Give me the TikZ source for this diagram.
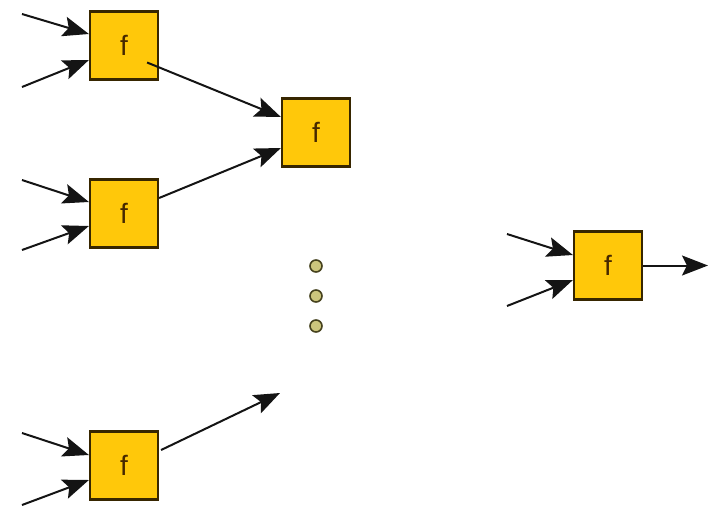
\documentclass[tikz,border=0pt]{standalone}
\usepackage{fontspec}
\setmainfont{Liberation Sans}
\usetikzlibrary{arrows.meta,calc}
\definecolor{boxfill}{RGB}{255,200,10}
\definecolor{boxline}{RGB}{55,38,0}
\definecolor{letter}{RGB}{70,40,0}
\definecolor{dotfill}{RGB}{205,198,125}
\definecolor{dotline}{RGB}{70,66,30}
\definecolor{wire}{RGB}{20,20,20}
\tikzset{
  fbox/.style={draw=boxline, fill=boxfill, line width=2.2pt, minimum size=68pt,
    inner sep=0pt, text=letter, font=\fontsize{28}{28}\selectfont},
  wirearrow/.style={draw=wire, line width=2pt, -{Stealth[length=26pt,width=20pt,inset=5pt]}},
  vdot/.style={circle, draw=dotline, fill=dotfill, line width=1.6pt, minimum size=12pt, inner sep=0pt}
}
\begin{document}
\begin{tikzpicture}[x=1pt,y=-1pt]
\useasboundingbox (0,0) rectangle (721,507);
% function blocks
\node[fbox] (b1) at (124,45.5) {f};
\node[fbox] (b2) at (316,132.5) {f};
\node[fbox] (b3) at (124,213.5) {f};
\node[fbox] (b4) at (124,465.5) {f};
\node[fbox] (b5) at (608,265.5) {f};
% ellipsis dots
\node[vdot] (d1) at (316,266) {};
\node[vdot] (d2) at (316,296) {};
\node[vdot] (d3) at (316,326) {};
% free ends of the wires
\coordinate (i1a) at (22,14);
\coordinate (i1b) at (22,87);
\coordinate (i3a) at (22,180);
\coordinate (i3b) at (22,250);
\coordinate (i4a) at (22,433);
\coordinate (i4b) at (22,505);
\coordinate (i5a) at (507,234);
\coordinate (i5b) at (507,306);
\coordinate (o4) at (280,393);
\coordinate (o5) at (708,266);
% inputs
\draw[wirearrow] (i1a) -- ($(b1.west)+(0,-11.5)$);
\draw[wirearrow] (i1b) -- ($(b1.west)+(0,14.5)$);
\draw[wirearrow] (i3a) -- ($(b3.west)+(0,-11.5)$);
\draw[wirearrow] (i3b) -- ($(b3.west)+(0,12.5)$);
\draw[wirearrow] (i4a) -- ($(b4.west)+(0,-10.5)$);
\draw[wirearrow] (i4b) -- ($(b4.west)+(0,14.5)$);
\draw[wirearrow] (i5a) -- ($(b5.west)+(0,-10.5)$);
\draw[wirearrow] (i5b) -- ($(b5.west)+(0,14.5)$);
% connections between blocks
\draw[wirearrow] ($(b1.east)+(-12,17)$) -- ($(b2.west)+(0,-15.5)$);
\draw[wirearrow] ($(b3.east)+(0,-15.5)$) -- ($(b2.west)+(0,15.5)$);
\draw[wirearrow] ($(b4.east)+(2,-15.5)$) -- (o4);
\draw[wirearrow] (b5.east) -- (b5.east -| o5);
\end{tikzpicture}
\end{document}
